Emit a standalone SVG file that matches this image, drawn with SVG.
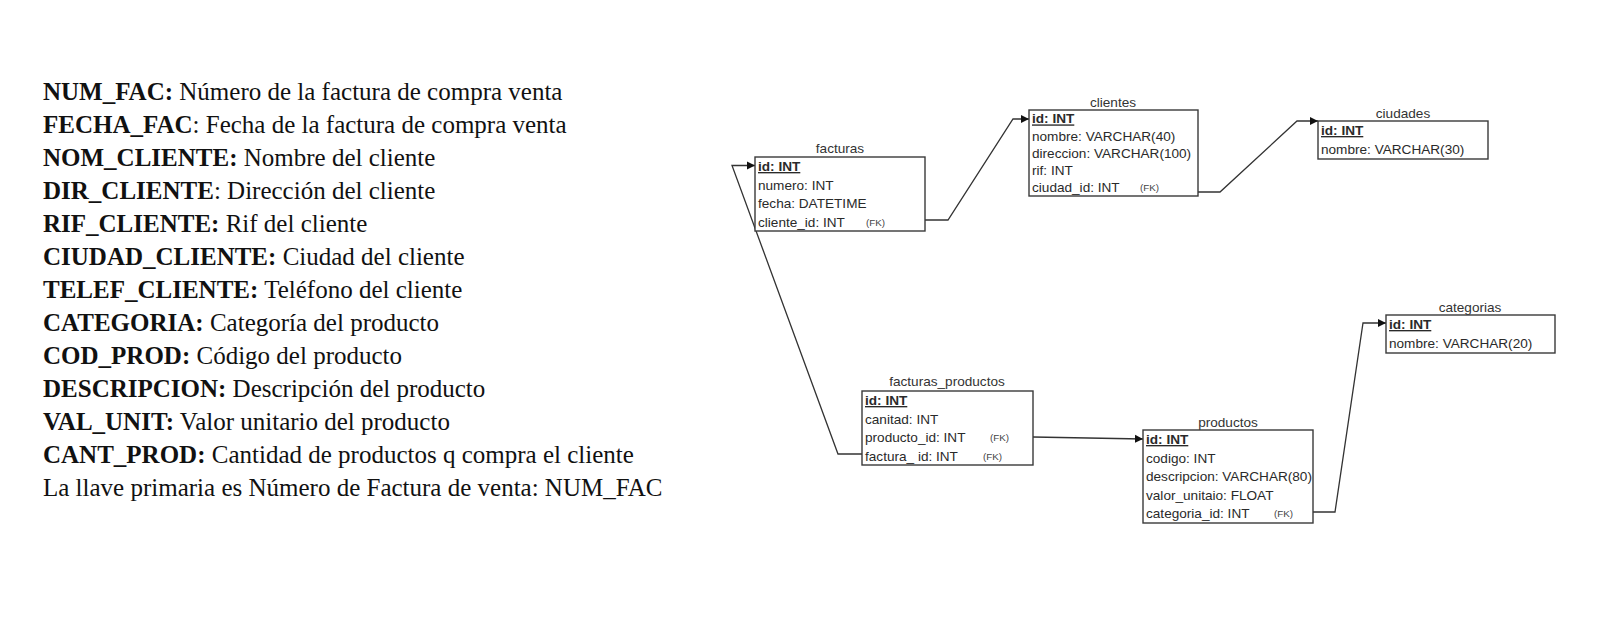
<svg xmlns="http://www.w3.org/2000/svg" width="1623" height="624" viewBox="0 0 1623 624">
<style>
.bg{fill:#ffffff}
.doc{font-family:"Liberation Serif","Times New Roman",serif;font-size:25px;fill:#111}
.b{font-weight:bold}
.box{fill:#ffffff;stroke:#3a3a3a;stroke-width:1.4}
.title{font-family:"Liberation Sans",Arial,sans-serif;font-size:13.6px;fill:#333;text-anchor:middle}
.row{font-family:"Liberation Sans",Arial,sans-serif;font-size:13.6px;fill:#2a2a2a}
.pk{font-weight:bold;text-decoration:underline}
.fk{font-family:"Liberation Sans",Arial,sans-serif;font-size:9.8px;fill:#444}
.con{fill:none;stroke:#333;stroke-width:1.3}
</style>
<defs>
<marker id="arr" viewBox="0 0 10 10" refX="10" refY="5" markerWidth="8" markerHeight="10" markerUnits="userSpaceOnUse" orient="auto">
<path d="M0,0 L10,5 L0,10 z" fill="#111"/>
</marker>
</defs>
<rect class="bg" x="0" y="0" width="1623" height="624"/>

<g id="descripcion-campos">
<text class="doc" x="43" y="99.5"><tspan class="b">NUM_FAC:</tspan> Número de la factura de compra venta</text>
<text class="doc" x="43" y="132.5"><tspan class="b">FECHA_FAC</tspan>: Fecha de la factura de compra venta</text>
<text class="doc" x="43" y="165.5"><tspan class="b">NOM_CLIENTE:</tspan> Nombre del cliente</text>
<text class="doc" x="43" y="198.5"><tspan class="b">DIR_CLIENTE</tspan>: Dirección del cliente</text>
<text class="doc" x="43" y="231.5"><tspan class="b">RIF_CLIENTE:</tspan> Rif del cliente</text>
<text class="doc" x="43" y="264.5"><tspan class="b">CIUDAD_CLIENTE:</tspan> Ciudad del cliente</text>
<text class="doc" x="43" y="297.5"><tspan class="b">TELEF_CLIENTE:</tspan> Teléfono del cliente</text>
<text class="doc" x="43" y="330.5"><tspan class="b">CATEGORIA:</tspan> Categoría del producto</text>
<text class="doc" x="43" y="363.5"><tspan class="b">COD_PROD:</tspan> Código del producto</text>
<text class="doc" x="43" y="396.5"><tspan class="b">DESCRIPCION:</tspan> Descripción del producto</text>
<text class="doc" x="43" y="429.5"><tspan class="b">VAL_UNIT:</tspan> Valor unitario del producto</text>
<text class="doc" x="43" y="462.5"><tspan class="b">CANT_PROD:</tspan> Cantidad de productos q compra el cliente</text>
<text class="doc" x="43" y="495.5">La llave primaria es Número de Factura de venta: NUM_FAC</text>
</g>

<g id="connectors">
<polyline class="con" points="925,220 948,220 1013,119 1029,119" marker-end="url(#arr)"/>
<polyline class="con" points="1198,192 1220,192 1297,121 1318,121" marker-end="url(#arr)"/>
<polyline class="con" points="862,454 838,454 732,165.5 755,165.5" marker-end="url(#arr)"/>
<polyline class="con" points="1033,437 1143,439" marker-end="url(#arr)"/>
<polyline class="con" points="1313,512 1335,512 1363,323 1386,323" marker-end="url(#arr)"/>
</g>

<g id="facturas">
<text class="title" x="840" y="153">facturas</text>
<rect class="box" x="755" y="157" width="170" height="74"/>
<text class="row pk" x="758" y="171">id: INT</text>
<text class="row" x="758" y="189.5">numero: INT</text>
<text class="row" x="758" y="208">fecha: DATETIME</text>
<text class="row" x="758" y="226.5">cliente_id: INT</text>
<text class="fk" x="866" y="225.5">(FK)</text>
</g>

<g id="clientes">
<text class="title" x="1113" y="107">clientes</text>
<rect class="box" x="1029" y="110" width="169" height="86"/>
<text class="row pk" x="1032" y="123.4">id: INT</text>
<text class="row" x="1032" y="140.6">nombre: VARCHAR(40)</text>
<text class="row" x="1032" y="157.8">direccion: VARCHAR(100)</text>
<text class="row" x="1032" y="175">rif: INT</text>
<text class="row" x="1032" y="192.2">ciudad_id: INT</text>
<text class="fk" x="1140" y="191.2">(FK)</text>
</g>

<g id="ciudades">
<text class="title" x="1403" y="118">ciudades</text>
<rect class="box" x="1318" y="121" width="170" height="38"/>
<text class="row pk" x="1321" y="135">id: INT</text>
<text class="row" x="1321" y="154">nombre: VARCHAR(30)</text>
</g>

<g id="facturas_productos">
<text class="title" x="947" y="386">facturas_productos</text>
<rect class="box" x="862" y="391" width="171" height="74"/>
<text class="row pk" x="865" y="405">id: INT</text>
<text class="row" x="865" y="423.5">canitad: INT</text>
<text class="row" x="865" y="442">producto_id: INT</text>
<text class="fk" x="990" y="441">(FK)</text>
<text class="row" x="865" y="460.5">factura_ id: INT</text>
<text class="fk" x="983" y="459.5">(FK)</text>
</g>

<g id="productos">
<text class="title" x="1228" y="427">productos</text>
<rect class="box" x="1143" y="430" width="170" height="93"/>
<text class="row pk" x="1146" y="444">id: INT</text>
<text class="row" x="1146" y="462.6">codigo: INT</text>
<text class="row" x="1146" y="481.2">descripcion: VARCHAR(80)</text>
<text class="row" x="1146" y="499.8">valor_unitaio: FLOAT</text>
<text class="row" x="1146" y="518.4">categoria_id: INT</text>
<text class="fk" x="1274" y="517.4">(FK)</text>
</g>

<g id="categorias">
<text class="title" x="1470" y="312">categorias</text>
<rect class="box" x="1386" y="315" width="169" height="38"/>
<text class="row pk" x="1389" y="329">id: INT</text>
<text class="row" x="1389" y="348">nombre: VARCHAR(20)</text>
</g>
</svg>
